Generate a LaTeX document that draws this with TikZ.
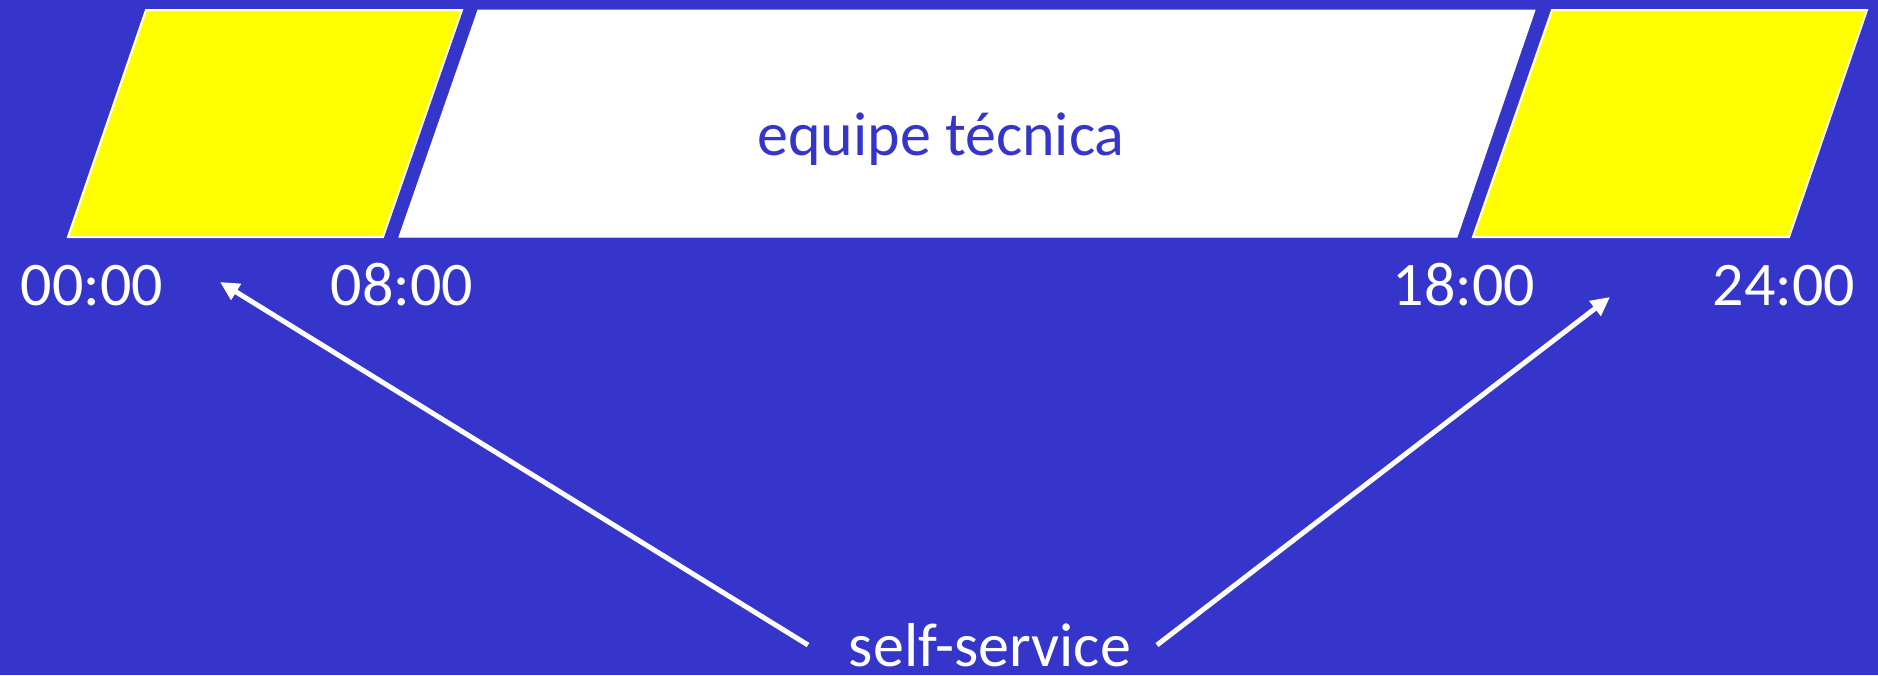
\documentclass[tikz,border=0pt]{standalone}
\usepackage{fontspec}
\setmainfont{Carlito}
\usetikzlibrary{arrows.meta}
\definecolor{bg}{RGB}{53,53,204}
\definecolor{yel}{RGB}{255,255,0}
\tikzset{
  lbl/.style={text=white, font=\fontsize{62}{70}\selectfont, anchor=base, inner sep=0pt},
  bandtxt/.style={text=bg, font=\fontsize{62}{70}\selectfont, anchor=base, inner sep=0pt},
  yband/.style={fill=yel, draw=white, line width=2pt, line join=miter},
  wband/.style={fill=white, draw=white, line width=1pt},
  arr/.style={draw=white, line width=5pt, -{Triangle[length=19pt,width=18pt]}}
}
\begin{document}
\begin{tikzpicture}[x=1pt, y=-1pt]
\fill[bg] (0,0) rectangle (1878,675);
\useasboundingbox (0,0) rectangle (1878,675);
% bands
\path[yband] (146,10) -- (462,10) -- (383,237) -- (68,237) -- cycle;
\path[wband] (478,10) -- (1535,10) -- (1457,237) -- (399,237) -- cycle;
\path[yband] (1552,10) -- (1867,10) -- (1789,237) -- (1473,237) -- cycle;
% labels
\node[bandtxt] (eq) at (941,155) {equipe técnica};
\node[lbl] (t0) at (92,305) {00:00};
\node[lbl] (t8) at (402,305) {08:00};
\node[lbl] (t18) at (1464,305) {18:00};
\node[lbl] (t24) at (1784,305) {24:00};
\node[lbl] (ss) at (990,666) {self-service};
% arrows
\coordinate (s1) at (808,645);
\coordinate (e1) at (220,282);
\coordinate (s2) at (1157,645);
\coordinate (e2) at (1610,297);
\draw[arr] (s1) -- (e1);
\draw[arr] (s2) -- (e2);
\end{tikzpicture}
\end{document}
